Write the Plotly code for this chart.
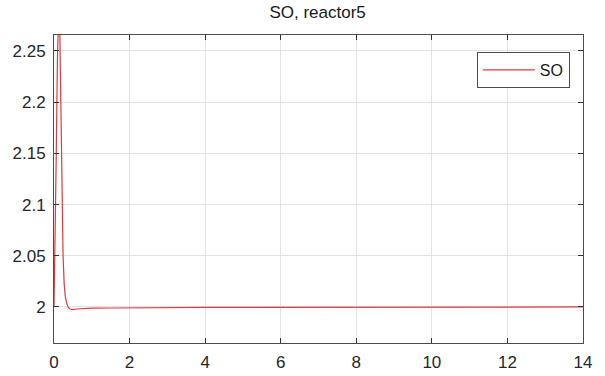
import plotly.graph_objects as go

# Data
time = [0, 0.03, 0.06, 0.09, 0.11, 0.13, 0.155, 0.18, 0.21, 0.24, 0.27, 0.3, 0.34, 0.38,
        0.42, 0.46, 0.5, 0.6, 0.8, 1.0, 1.5, 2, 3, 4, 5, 6, 7, 8, 9, 10, 11, 12, 13, 14]
so = [2.0, 2.06, 2.15, 2.24, 2.29, 2.30, 2.265, 2.19, 2.11, 2.05, 2.022, 2.01, 2.003, 1.9995,
      1.998, 1.9975, 1.9975, 1.998, 1.9985, 1.9988, 1.999, 1.9992, 1.9994, 1.9995,
      1.9996, 1.9997, 1.9998, 1.9998, 1.9999, 1.9999, 2.0, 2.0, 2.0, 2.0]
x_ticks = [0, 2, 4, 6, 8, 10, 12, 14]
y_ticks = [2, 2.05, 2.1, 2.15, 2.2, 2.25]
y_tick_labels = ["2", "2.05", "2.1", "2.15", "2.2", "2.25"]

fig = go.Figure()
fig.add_trace(go.Scatter(x=time, y=so, mode="lines", name="SO",
                         line=dict(color="#dc3a44", width=1.2)))

axis_common = dict(showgrid=True, gridcolor="#e3e3e3", gridwidth=1,
                   showline=True, linecolor="#4d4d4d", linewidth=1, mirror="ticks",
                   ticks="inside", ticklen=5, tickcolor="#333333",
                   tickfont=dict(family="Liberation Sans, Arial", size=17, color="#262626"),
                   zeroline=False, automargin=False)

fig.update_layout(
    width=605, height=376,
    margin=dict(l=54, r=22, t=35, b=33),
    paper_bgcolor="white", plot_bgcolor="white",
    title=dict(text="SO, reactor5", x=0.525, xanchor="center", y=0.968, yanchor="middle",
               font=dict(family="Liberation Sans, Arial", size=17, color="#1a1a1a")),
    xaxis=dict(range=[0, 14], tickvals=x_ticks, ticklabelstandoff=4, **axis_common),
    yaxis=dict(range=[1.9648, 2.2656], tickvals=y_ticks, ticktext=y_tick_labels,
               ticklabelstandoff=4, **axis_common),
    showlegend=True,
    legend=dict(x=0.975, y=0.945, xanchor="right", yanchor="top", itemwidth=52,
                bgcolor="white", bordercolor="#4d4d4d", borderwidth=1,
                font=dict(family="Liberation Sans, Arial", size=16, color="#1a1a1a")),
)

fig.write_html("out.html", config={"displayModeBar": False},
               post_script="document.body.style.margin='0';document.body.style.overflow='hidden';")
